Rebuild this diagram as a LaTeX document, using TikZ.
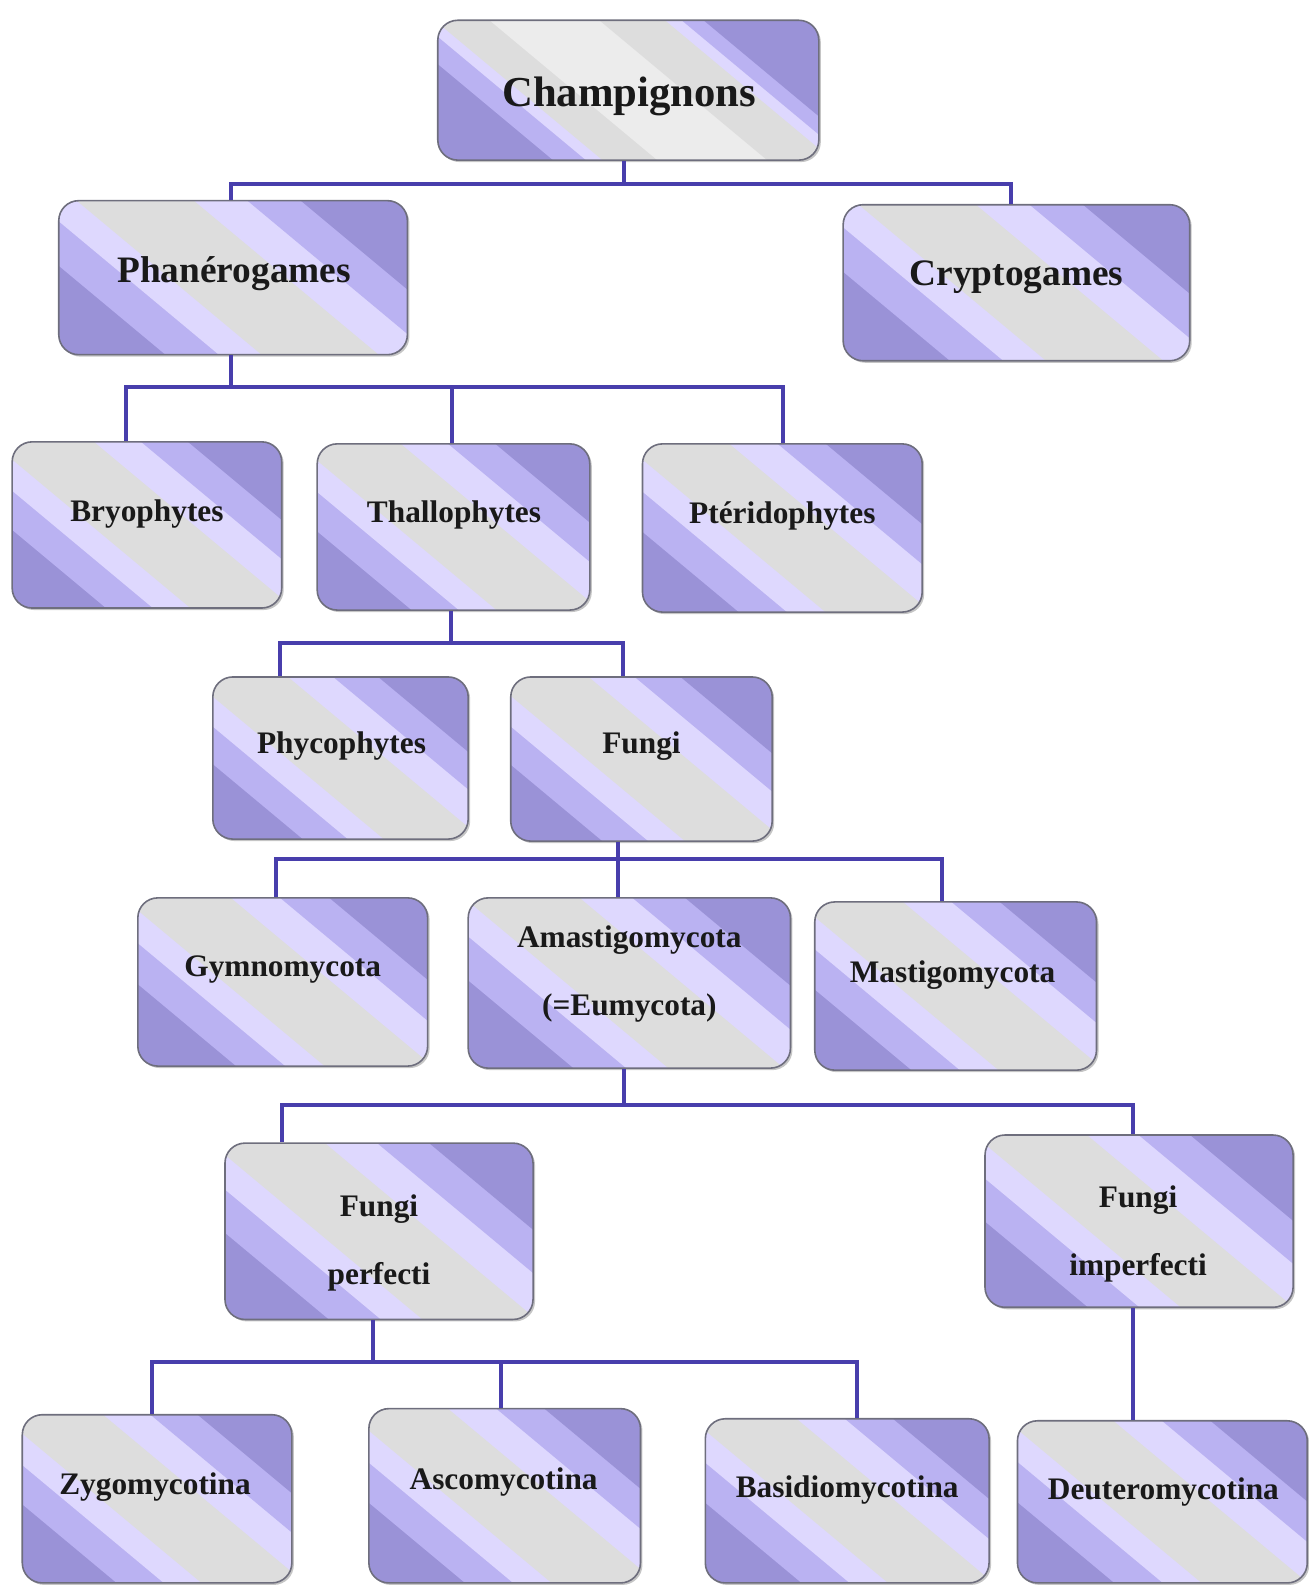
\documentclass[tikz,border=0pt]{standalone}
\usepackage{fontspec}
\setmainfont{Liberation Serif}
\definecolor{pdark}{RGB}{154,146,215}
\definecolor{pmed}{RGB}{186,178,242}
\definecolor{plight}{RGB}{222,216,254}
\definecolor{pgray}{RGB}{221,221,221}
\definecolor{pwhite}{RGB}{236,236,236}
\definecolor{conncol}{RGB}{72,62,172}
\definecolor{edgecol}{RGB}{110,110,125}
\def\bandsN{0.2/pmed,0.3/plight,0.38/pgray,0.6/plight,0.7/pmed,0.8/pdark}
\def\bandsR{0.21/pmed,0.27/plight,0.30/pgray,0.40/pwhite,0.60/pgray,0.72/plight,0.75/pmed,0.79/pdark}
\tikzset{
  box/.style={rounded corners=15pt, draw=edgecol, line width=1.2pt, inner sep=0pt},
  boxshadow/.style={fill=black!45, opacity=0.5, rounded corners=15pt, xshift=1.5pt, yshift=-1.5pt},
  sz/.style 2 args={minimum width=(#1)*0.76pt, minimum height=(#2)*0.76pt},
  lbl/.style={font=\fontsize{23.5}{51}\selectfont\bfseries, text=black!90, inner sep=0pt, align=center},
  big/.style={font=\fontsize{28}{34}\selectfont\bfseries},
  conn/.style={draw=conncol, line width=3pt}
}
\newcommand\mybox[6][\bandsN]{%
  \pgfmathsetmacro\bw{#5-#3}\pgfmathsetmacro\bh{#6-#4}\pgfmathsetmacro\tmax{\bw+1.2*\bh}%
  \fill[boxshadow] (#3,#4) rectangle (#5,#6);
  \begin{scope}
    \clip[rounded corners=15pt] (#3,#4) rectangle (#5,#6);
    \fill[pdark] (#3-10,#4-10) rectangle (#5+10,#6+10);
    \foreach \f/\col in #1 {
      \pgfmathsetmacro\ta{\f*\tmax}
      \fill[\col] ({#3+\ta+36},{#6+30}) -- ({#5+400},{#6+30}) -- ({#5+400},{#4-30}) -- ({#3+\ta-1.2*(\bh+30)},{#4-30}) -- cycle;
    }
  \end{scope}
  \node[box, sz={\bw}{\bh}] (#2) at ({(#3+#5)/2},{(#4+#6)/2}) {};}
\begin{document}
\begin{tikzpicture}[x=0.76pt, y=-0.76pt]
\useasboundingbox (0,0) rectangle (1291,1568);
% boxes
\mybox[\bandsR]{champ}{432}{20}{808}{158}
\mybox{phan}{58}{198}{402}{350}
\mybox{crypt}{832}{202}{1174}{356}
\mybox{bryo}{12}{436}{278}{600}
\mybox{thall}{313}{438}{582}{602}
\mybox{pter}{634}{438}{910}{604}
\mybox{phyco}{210}{668}{462}{828}
\mybox{fungi}{504}{668}{762}{830}
\mybox{gymno}{136}{886}{422}{1052}
\mybox{amast}{462}{886}{780}{1054}
\mybox{mastigo}{804}{890}{1082}{1056}
\mybox{fperf}{222}{1128}{526}{1302}
\mybox{fimperf}{972}{1120}{1276}{1290}
\mybox{zygo}{22}{1396}{288}{1562}
\mybox{asco}{364}{1390}{632}{1562}
\mybox{basid}{696}{1400}{976}{1562}
\mybox{deut}{1004}{1402}{1290}{1562}
% labels
\node[lbl, font=\fontsize{32}{38}\selectfont\bfseries] (champ-t) at (621,95) {Champignons};
\node[lbl, big] (phan-t) at (231,270) {Phanérogames};
\node[lbl, big] (crypt-t) at (1003,274) {Cryptogames};
\node[lbl] (bryo-t) at (145,507) {Bryophytes};
\node[lbl] (thall-t) at (448,508) {Thallophytes};
\node[lbl] (pter-t) at (772,509) {Ptéridophytes};
\node[lbl] (phyco-t) at (337,736) {Phycophytes};
\node[lbl] (fungi-t) at (633,736) {Fungi};
\node[lbl] (gymno-t) at (279,957) {Gymnomycota};
\node[lbl] (amast-t) at (621,961) {Amastigomycota\\(=Eumycota)};
\node[lbl] (mastigo-t) at (940,962) {Mastigomycota};
\node[lbl] (fperf-t) at (374,1227) {Fungi\\perfecti};
\node[lbl] (fimperf-t) at (1123,1218) {Fungi\\imperfecti};
\node[lbl] (zygo-t) at (153,1467) {Zygomycotina};
\node[lbl] (asco-t) at (497,1462) {Ascomycotina};
\node[lbl] (basid-t) at (836,1470) {Basidiomycotina};
\node[lbl] (deut-t) at (1148,1472) {Deuteromycotina};
% connectors
\draw[conn] (champ.south -| 616,0) -- (616,182) -| (phan.north -| 228,0);
\draw[conn] (616,182) -| (crypt.north -| 998,0);
\draw[conn] (phan.south -| 228,0) -- (228,382) -| (bryo.north -| 124,0);
\draw[conn] (228,382) -| (pter.north -| 773,0);
\draw[conn] (446,382) -- (thall.north -| 446,0);
\draw[conn] (thall.south -| 445,0) -- (445,634) -| (phyco.north -| 276,0);
\draw[conn] (445,634) -| (fungi.north -| 615,0);
\draw[conn] (fungi.south -| 610,0) -- (610,848) -| (gymno.north -| 272,0);
\draw[conn] (610,848) -| (mastigo.north -| 930,0);
\draw[conn] (610,848) -- (amast.north -| 610,0);
\draw[conn] (amast.south -| 616,0) -- (616,1090) -| (fperf.north -| 278,0);
\draw[conn] (616,1090) -| (fimperf.north -| 1118,0);
\draw[conn] (fperf.south -| 368,0) -- (368,1344) -| (zygo.north -| 150,0);
\draw[conn] (368,1344) -| (basid.north -| 846,0);
\draw[conn] (494,1344) -- (asco.north -| 494,0);
\draw[conn] (fimperf.south -| 1118,0) -- (deut.north -| 1118,0);
\end{tikzpicture}
\end{document}
